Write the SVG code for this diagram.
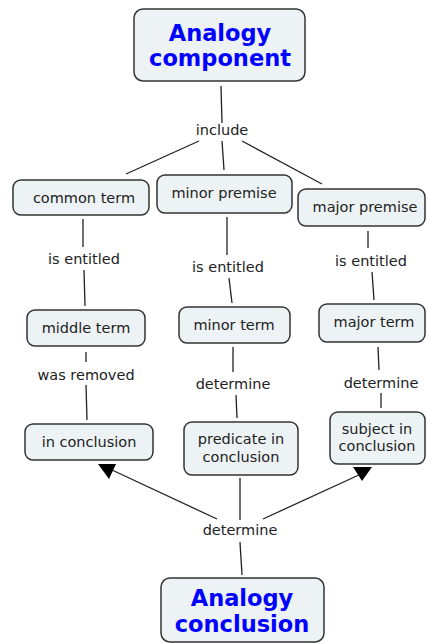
<svg xmlns="http://www.w3.org/2000/svg" width="427" height="644" viewBox="0 0 427 644">
<style>
.node rect{fill:#edf2f5;stroke:#333;stroke-width:1.5}
.t{font-family:"DejaVu Sans",Verdana,sans-serif;font-size:14.5px;fill:#222;text-anchor:middle}
.big{font-family:"DejaVu Sans",Verdana,sans-serif;font-size:22.5px;font-weight:bold;fill:#0000ff;text-anchor:middle}
.c line{stroke:#222;stroke-width:1.3}
.c polygon{fill:#000}
</style>
<rect width="427" height="644" fill="#fff"/>
<g id="connectors" class="c">
<line x1="221" y1="86" x2="222" y2="123"/>
<line x1="199" y1="141" x2="126" y2="174"/>
<line x1="222" y1="141" x2="224" y2="170"/>
<line x1="242" y1="141" x2="322" y2="184"/>
<line x1="83" y1="219" x2="83" y2="247"/>
<line x1="84" y1="270" x2="85" y2="306"/>
<line x1="227" y1="217" x2="227" y2="255"/>
<line x1="229" y1="278" x2="232" y2="303"/>
<line x1="368" y1="231" x2="368" y2="248"/>
<line x1="372" y1="272" x2="374" y2="300"/>
<line x1="86" y1="352" x2="86" y2="362"/>
<line x1="86" y1="385" x2="87" y2="420"/>
<line x1="233" y1="347" x2="233" y2="372"/>
<line x1="236" y1="395" x2="237" y2="418"/>
<line x1="378" y1="347" x2="379" y2="370"/>
<line x1="381" y1="393" x2="381" y2="408"/>
<line x1="240" y1="478" x2="240" y2="520"/>
<line x1="240" y1="542" x2="242" y2="575"/>
<line x1="217" y1="519" x2="112" y2="470"/>
<polygon points="98,464 116,464 109,479"/>
<line x1="263" y1="519" x2="361" y2="474"/>
<polygon points="353,467 372,467 362,481"/>
</g>
<g id="lbl-include"><text class="t" x="222" y="135">include</text></g>
<g id="lbl-entitled1"><text class="t" x="84" y="264">is entitled</text></g>
<g id="lbl-entitled2"><text class="t" x="228" y="272">is entitled</text></g>
<g id="lbl-entitled3"><text class="t" x="371" y="266">is entitled</text></g>
<g id="lbl-removed"><text class="t" x="86" y="380">was removed</text></g>
<g id="lbl-determine1"><text class="t" x="233" y="389">determine</text></g>
<g id="lbl-determine2"><text class="t" x="381" y="388">determine</text></g>
<g id="lbl-determine3"><text class="t" x="240" y="535">determine</text></g>
<g id="n-component" class="node"><rect x="134" y="9" width="171" height="72" rx="9"/><text class="big" x="220" y="41">Analogy</text><text class="big" x="220" y="66">component</text></g>
<g id="n-common" class="node"><rect x="13" y="180" width="136" height="35" rx="8"/><text class="t" x="84" y="203">common term</text></g>
<g id="n-minorp" class="node"><rect x="157" y="175" width="135" height="38" rx="8"/><text class="t" x="224" y="198">minor premise</text></g>
<g id="n-majorp" class="node"><rect x="298" y="189" width="127" height="37" rx="8"/><text class="t" x="365" y="212">major premise</text></g>
<g id="n-middle" class="node"><rect x="27" y="310" width="118" height="36" rx="8"/><text class="t" x="86" y="333">middle term</text></g>
<g id="n-minort" class="node"><rect x="179" y="307" width="111" height="36" rx="8"/><text class="t" x="234" y="330">minor term</text></g>
<g id="n-majort" class="node"><rect x="319" y="304" width="106" height="38" rx="8"/><text class="t" x="374" y="327">major term</text></g>
<g id="n-inconc" class="node"><rect x="25" y="424" width="128" height="36" rx="8"/><text class="t" x="89" y="447">in conclusion</text></g>
<g id="n-pred" class="node"><rect x="184" y="422" width="114" height="53" rx="8"/><text class="t" x="241" y="444">predicate in</text><text class="t" x="241" y="462">conclusion</text></g>
<g id="n-subj" class="node"><rect x="330" y="412" width="95" height="52" rx="8"/><text class="t" x="377" y="434">subject in</text><text class="t" x="377" y="451">conclusion</text></g>
<g id="n-conclusion" class="node"><rect x="161" y="578" width="163" height="64" rx="9"/><text class="big" x="242" y="606">Analogy</text><text class="big" x="242" y="632">conclusion</text></g>
</svg>
